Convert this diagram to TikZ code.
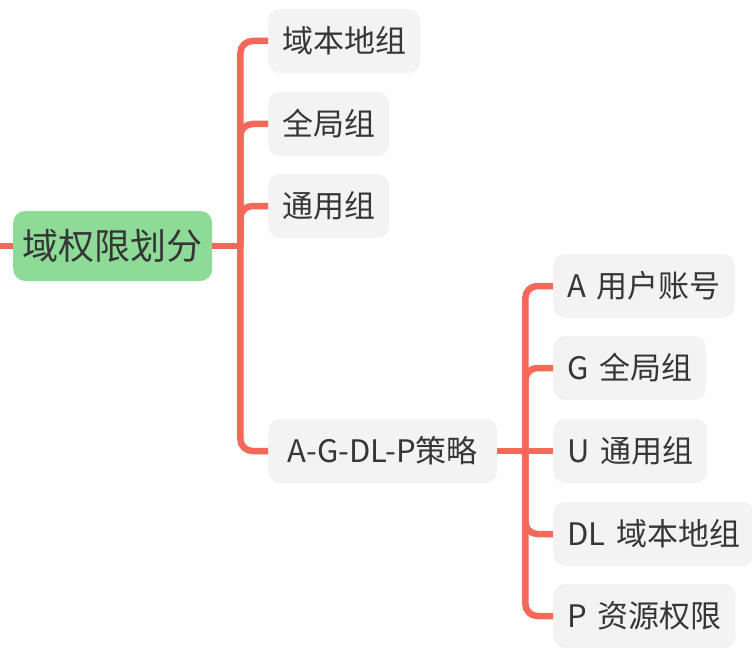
\documentclass[tikz,border=0pt]{standalone}
\usepackage{fontspec}
\setmainfont{Noto Sans CJK SC}
\definecolor{linkred}{HTML}{F4685A}
\definecolor{rootgreen}{HTML}{8EDB98}
\definecolor{boxgray}{HTML}{F3F3F3}
\definecolor{textgray}{HTML}{363636}
\newcommand{\gap}{\hspace{0.35em}}
\begin{document}
\begin{tikzpicture}
[x=1pt, y=-1pt,
 every node/.style={inner sep=0pt, text=textgray},
 rootbox/.style={anchor=west, rounded corners=12pt, fill=rootgreen, minimum width=199pt, minimum height=70pt, font=\fontsize{36}{40}\selectfont},
 topicbox/.style={anchor=west, rounded corners=12pt, fill=boxgray, inner xsep=14pt, minimum height=64pt, font=\fontsize{31}{36}\selectfont},
 link/.style={line width=6.5pt, color=linkred},
 branch/.style={link, rounded corners=12pt}]
\useasboundingbox (0,0) rectangle (752,650);
\coordinate (edge) at (0,246);
\node (root) [rootbox] at (13,246) {域权限划分};
\node (dlocal) [topicbox] at (268,41) {域本地组};
\node (global) [topicbox] at (268,124) {全局组};
\node (universal) [topicbox] at (268,206) {通用组};
\node (agdlp) [topicbox, minimum width=229pt] at (268,451) {A-G-DL-P策略};
\node (acct) [topicbox] at (553,286) {A\gap 用户账号};
\node (ggroup) [topicbox] at (553,368) {G\gap 全局组};
\node (ugroup) [topicbox] at (553,451) {U\gap 通用组};
\node (dlgroup) [topicbox] at (553,534) {DL\gap 域本地组};
\node (perm) [topicbox] at (553,616) {P\gap 资源权限};
\draw [link] (edge) -- (root.west);
\draw [link] (root.east) -- ++(28,0) coordinate (hub1);
\draw [branch] (hub1) |- (dlocal.west);
\draw [branch] (hub1) |- (global.west);
\draw [branch] (hub1) |- (universal.west);
\draw [branch] (hub1) |- (agdlp.west);
\draw [link] (agdlp.east) -- (ugroup.west);
\coordinate (hub2) at ([xshift=28pt]agdlp.east);
\draw [branch] (hub2) |- (acct.west);
\draw [branch] (hub2) |- (ggroup.west);
\draw [branch] (hub2) |- (dlgroup.west);
\draw [branch] (hub2) |- (perm.west);
\end{tikzpicture}
\end{document}
